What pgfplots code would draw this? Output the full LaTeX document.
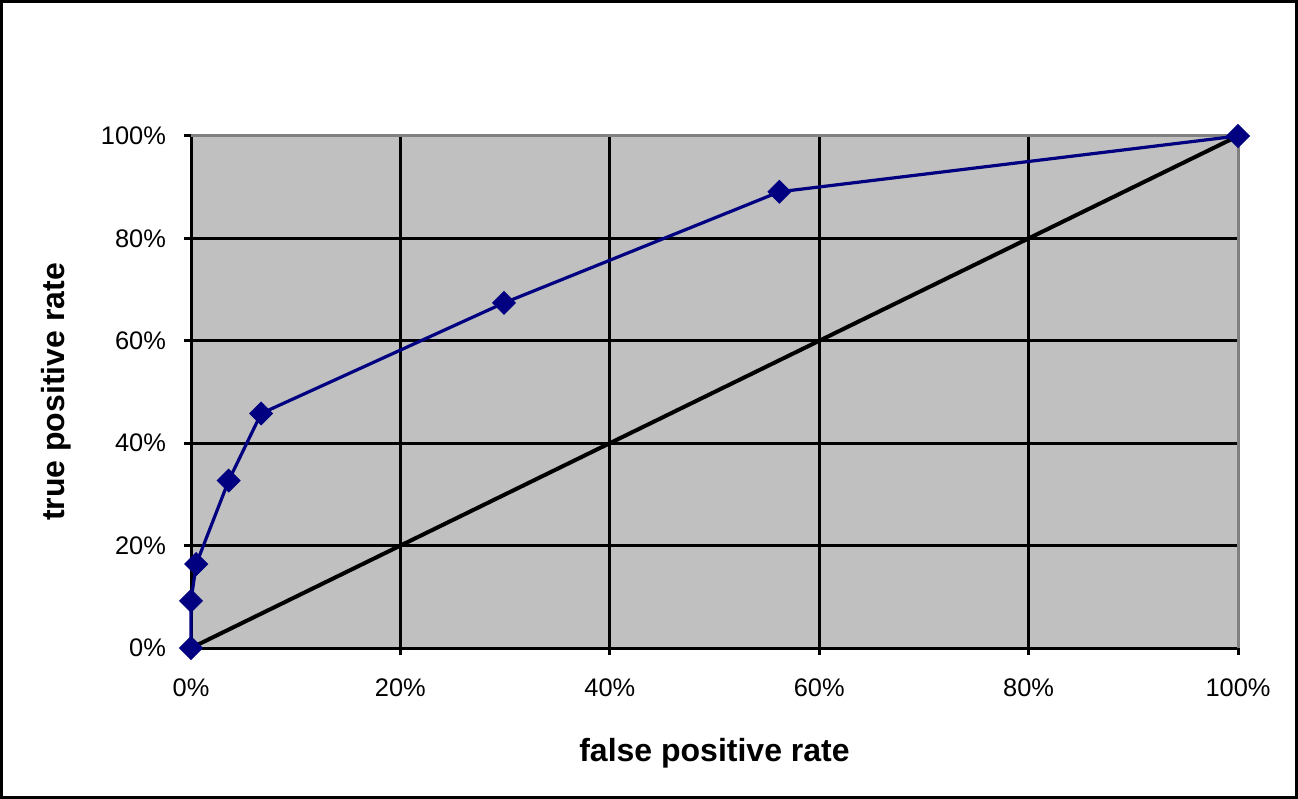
\documentclass[border=0pt]{standalone}
\usepackage{pgfplots}
\pgfplotsset{compat=1.18}
\usepackage{fontspec}
\setmainfont{Liberation Sans}
\definecolor{plotbg}{HTML}{C0C0C0}
\definecolor{navyblue}{HTML}{000080}
\definecolor{bordergray}{HTML}{808080}
\begin{document}
\begin{tikzpicture}[x=1pt,y=1pt]
\draw[line width=1.5pt,black] (0.75,0.75) rectangle (648.25,398.75);
\begin{axis}[
  at={(95.5pt,75.5pt)}, anchor=south west,
  scale only axis, width=523.5pt, height=256pt,
  xmin=0, xmax=100, ymin=0, ymax=100,
  xtick={0,20,40,60,80,100}, ytick={0,20,40,60,80,100},
  xticklabel={\pgfmathprintnumber{\tick}\%},
  yticklabel={\pgfmathprintnumber{\tick}\%},
  /pgf/number format/assume math mode=true,
  tick label style={font=\fontsize{12.7}{14}\selectfont},
  tick align=outside, tick pos=left,
  major tick length=3.5pt,
  tick style={line width=1.5pt, black},
  grid=major, major grid style={line width=1.5pt, black},
  axis background/.style={fill=plotbg},
  axis line style={line width=1.5pt, black},
  xlabel={\bfseries false positive rate},
  ylabel={\bfseries true positive rate},
  label style={font=\fontsize{16}{18}\selectfont\bfseries},
  xlabel style={yshift=-14pt},
  ylabel style={yshift=8pt},
  yticklabel style={xshift=-5.5pt},
  xticklabel style={yshift=-8.5pt},
  clip=false,
]
\draw[line width=1.5pt, bordergray] (rel axis cs:0,1) -- (rel axis cs:1,1) -- (rel axis cs:1,0);
\addplot[line width=2pt, black, mark=none] coordinates {(0,0) (100,100)};
\addplot[line width=1.6pt, navyblue, mark=square*, mark size=4pt, mark options={rotate=45, fill=navyblue, draw=navyblue, line width=0.5pt}]
coordinates {
(0,0) (0,9.2) (0.5,16.4) (3.6,32.7) (6.7,45.8) (29.9,67.4) (56.2,89.1) (100,100)
};
\end{axis}
\end{tikzpicture}
\end{document}
